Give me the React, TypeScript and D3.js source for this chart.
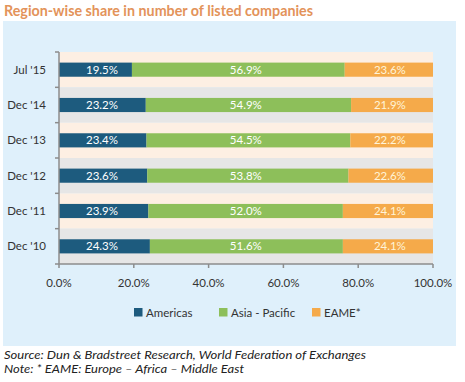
import React from "react";
import * as d3 from "d3";

const categories = ["Jul '15", "Dec '14", "Dec '13", "Dec '12", "Dec '11", "Dec '10"];
const americas = [19.5, 23.2, 23.4, 23.6, 23.9, 24.3];
const asiaPacific = [56.9, 54.9, 54.5, 53.8, 52.0, 51.6];
const eame = [23.6, 21.9, 22.2, 22.6, 24.1, 24.1];
const seriesNames = ["Americas", "Asia - Pacific", "EAME*"];
const xTicks = [0, 20, 40, 60, 80, 100];
const title = "Region-wise share in number of listed companies";
const source = "Source: Dun & Bradstreet Research, World Federation of Exchanges";
const note = "Note: * EAME: Europe \u2013 Africa \u2013 Middle East";

const colors = ["#1d5b7e", "#8dbf5a", "#f5aa4a"];
const labelColors = ["#ffffff", "#ffffff", "#fff4d8"];
const FONT = "Lato, 'Open Sans', sans-serif";

export default function App() {
  const W = 465;
  const H = 382;
  const x0 = 59;
  const x1 = 433;
  const yTop = 52;
  const yBot = 264;

  const x = d3.scaleLinear().domain([0, 100]).range([x0, x1]);
  const stripe = d3.scaleBand<string>().domain(categories).range([yTop, yBot]).padding(0);
  const y = d3
    .scaleBand<string>()
    .domain(categories)
    .range([yTop, yBot])
    .paddingInner(0.6)
    .paddingOuter(0.3);

  const series = [americas, asiaPacific, eame];
  const rows = categories.map((c, i) => {
    let acc = 0;
    const segs = series.map((s, k) => {
      const start = acc;
      acc += s[i];
      return { k, start, end: Math.min(acc, 100), value: s[i] };
    });
    return { c, segs };
  });
  // label x per series: mean of segment centres (labels sit in a column in the source)
  const labelX = series.map((_, k) =>
    d3.mean(rows, (r) => (r.segs[k].start + r.segs[k].end) / 2) as number
  );

  const legendX = [134, 219, 312];
  const legendY = 308;

  return (
    <svg width={W} height={H} style={{ position: "absolute", left: 0, top: 0 }}>
      <rect x={0} y={0} width={W} height={H} fill="#ffffff" />
      <text
        x={4}
        y={16}
        fontFamily={FONT}
        fontWeight="bold"
        fontSize={14.5}
        fill="#e3935a"
        textLength={309}
        lengthAdjust="spacingAndGlyphs"
      >
        {title}
      </text>
      <rect x={3} y={21} width={453} height={325} fill="#dff0fb" />

      {categories.map((c, i) => (
        <rect
          key={"s" + c}
          x={x0}
          y={stripe(c)}
          width={x1 - x0}
          height={stripe.bandwidth()}
          fill={i % 2 === 0 ? "#fdefe3" : "#e6e6e6"}
        />
      ))}

      {rows.map((r) =>
        r.segs.map((s) => (
          <rect
            key={r.c + s.k}
            x={x(s.start)}
            y={y(r.c)}
            width={x(s.end) - x(s.start)}
            height={y.bandwidth()}
            fill={colors[s.k]}
          />
        ))
      )}
      {rows.map((r) =>
        r.segs.map((s) => (
          <text
            key={"l" + r.c + s.k}
            x={x(labelX[s.k])}
            y={(y(r.c) as number) + y.bandwidth() / 2 + 4}
            textAnchor="middle"
            fontFamily={FONT}
            fontSize={11.5}
            fill={labelColors[s.k]}
          >
            {s.value.toFixed(1) + "%"}
          </text>
        ))
      )}

      {/* y axis */}
      <line x1={x0} x2={x0} y1={yTop} y2={yBot} stroke="#8c8c8c" strokeWidth={1.5} />
      {[...categories.map((c) => stripe(c) as number), yBot].map((v, i) => (
        <line key={"yt" + i} x1={x0 - 4} x2={x0} y1={v} y2={v} stroke="#8c8c8c" strokeWidth={1.5} />
      ))}
      {categories.map((c) => (
        <text
          key={"yl" + c}
          x={46}
          y={(y(c) as number) + y.bandwidth() / 2 + 4}
          textAnchor="end"
          fontFamily={FONT}
          fontSize={11.5}
          fill="#333333"
        >
          {c}
        </text>
      ))}

      {/* x axis */}
      <line x1={x0} x2={x1} y1={yBot} y2={yBot} stroke="#8c8c8c" strokeWidth={1.5} />
      {xTicks.map((t) => (
        <g key={"xt" + t}>
          <line x1={x(t)} x2={x(t)} y1={yBot} y2={yBot + 4} stroke="#8c8c8c" strokeWidth={1.5} />
          <text
            x={x(t)}
            y={yBot + 23}
            textAnchor="middle"
            fontFamily={FONT}
            fontSize={11.5}
            fill="#333333"
          >
            {t.toFixed(1) + "%"}
          </text>
        </g>
      ))}

      {/* legend */}
      {seriesNames.map((n, k) => (
        <g key={"lg" + n}>
          <rect x={legendX[k]} y={legendY} width={8.5} height={8.5} fill={colors[k]} />
          <text
            x={legendX[k] + 12}
            y={legendY + 8.5}
            fontFamily={FONT}
            fontSize={11.5}
            fill="#333333"
          >
            {n}
          </text>
        </g>
      ))}

      <text
        x={4}
        y={359}
        fontFamily={FONT}
        fontStyle="italic"
        fontSize={12}
        fill="#222222"
        textLength={362}
        lengthAdjust="spacingAndGlyphs"
      >
        {source}
      </text>
      <text
        x={4}
        y={373}
        fontFamily={FONT}
        fontStyle="italic"
        fontSize={12}
        fill="#222222"
        textLength={240}
        lengthAdjust="spacingAndGlyphs"
      >
        {note}
      </text>
    </svg>
  );
}
